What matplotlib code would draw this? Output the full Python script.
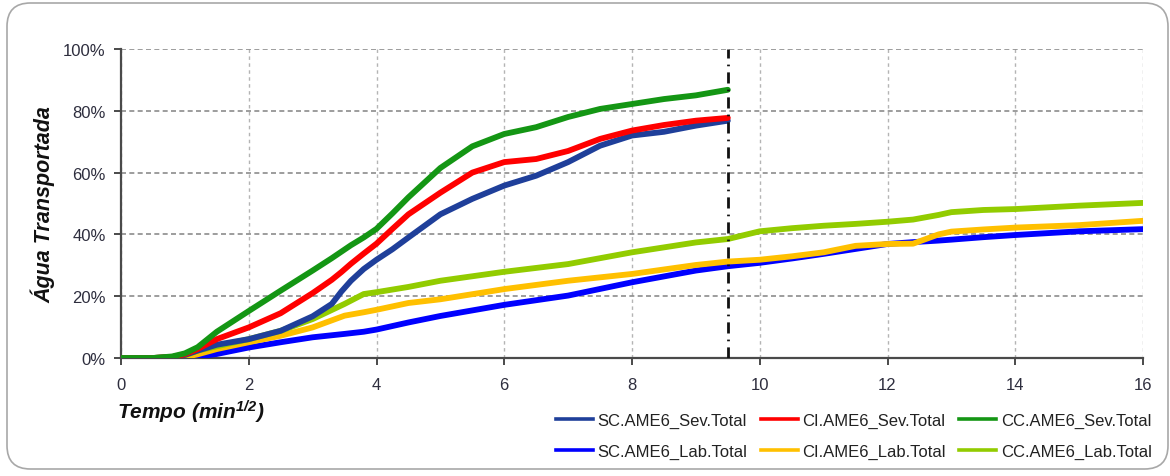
import matplotlib
matplotlib.use("Agg")
import matplotlib.pyplot as plt
from matplotlib.patches import FancyBboxPatch
from matplotlib.lines import Line2D

plt.rcParams['font.family'] = ['Liberation Sans', 'DejaVu Sans']
plt.rcParams['mathtext.fontset'] = 'custom'
plt.rcParams['mathtext.rm'] = 'Liberation Sans:italic:bold'
plt.rcParams['mathtext.it'] = 'Liberation Sans:italic:bold'
plt.rcParams['mathtext.default'] = 'rm'

# ---- data ----
x_sev = [0, 0.5, 0.8, 1.0, 1.2, 1.5, 2.0, 2.5, 3.0, 3.3, 3.45, 3.6, 3.8, 4.0,
         4.25, 4.5, 5.0, 5.5, 6.0, 6.5, 7.0, 7.5, 8.0, 8.5, 9.0, 9.5]
sc_sev = [0, 0, 0.3, 1.0, 2.4, 4.3, 6.1, 8.8, 13.5, 17.5, 21.5, 25.0, 28.8, 31.8,
          35.2, 39, 46.5, 51.5, 55.8, 59, 63.4, 68.7, 72, 73.2, 75.2, 76.8]
ci_sev = [0, 0, 0.3, 1.2, 2.9, 6.1, 9.9, 14.5, 21, 25.3, 27.8, 30.5, 33.8, 37,
          41.8, 46.5, 53.5, 60, 63.4, 64.4, 67, 70.9, 73.6, 75.4, 76.8, 77.7]
cc_sev = [0, 0, 0.5, 1.5, 3.5, 8.5, 15.2, 21.8, 28.3, 32.3, 34.4, 36.5, 39.0, 41.8,
          46.8, 52, 61.5, 68.5, 72.5, 74.7, 78, 80.6, 82.2, 83.8, 85, 86.8]

x_lab = [0, 0.5, 0.8, 1.0, 1.2, 1.5, 2.0, 2.5, 3.0, 3.5, 3.8, 4.0, 4.5, 5.0,
         6.0, 7.0, 8.0, 9.0, 9.5, 10.0, 10.5, 11.0, 11.5, 12.0, 12.4, 12.8,
         13.0, 13.5, 14.0, 15.0, 16.0]
sc_lab = [0, 0, 0, 0, 0.5, 1.3, 3.4, 5.1, 6.7, 7.8, 8.5, 9.2, 11.5, 13.6,
          17.2, 20.2, 24.5, 28.3, 29.7, 30.8, 32.2, 33.7, 35.3, 36.9, 37.5, 38.0,
          38.3, 39.1, 39.8, 41, 41.7]
ci_lab = [0, 0, 0, 0.3, 1.2, 2.9, 5.1, 7.2, 9.9, 13.7, 14.8, 15.6, 17.8, 19,
          22.3, 25, 27.2, 30.1, 31.2, 31.8, 32.9, 34.2, 36.3, 36.9, 37.0, 40.0,
          40.9, 41.6, 42.2, 43, 44.4]
cc_lab = [0, 0, 0.3, 0.8, 2.4, 3.8, 6.1, 8.8, 12.6, 17.5, 20.7, 21.3, 23, 25,
          27.9, 30.4, 34.2, 37.4, 38.5, 41, 42, 42.8, 43.4, 44.1, 44.8, 46.3,
          47.2, 47.9, 48.2, 49.3, 50.2]

cut_x = 9.5
x_ticks = [0, 2, 4, 6, 8, 10, 12, 14, 16]
y_ticks = [0, 20, 40, 60, 80, 100]
y_ticklabels = ['0%', '20%', '40%', '60%', '80%', '100%']

series = [
    ('SC.AME6_Sev.Total', x_sev, sc_sev, '#1F3F9A'),
    ('SC.AME6_Lab.Total', x_lab, sc_lab, '#0000FF'),
    ('CI.AME6_Sev.Total', x_sev, ci_sev, '#FF0000'),
    ('CI.AME6_Lab.Total', x_lab, ci_lab, '#FFC000'),
    ('CC.AME6_Sev.Total', x_sev, cc_sev, '#149614'),
    ('CC.AME6_Lab.Total', x_lab, cc_lab, '#92CC00'),
]
draw_order = [1, 3, 5, 0, 2, 4]

fig = plt.figure(figsize=(11.7, 4.77), dpi=100)
fig.patch.set_facecolor('white')

# rounded border
border = FancyBboxPatch((7 / 1170, 7 / 477), (1161 / 1170), (466 / 477),
                        boxstyle="round,pad=0,rounding_size=0.02",
                        transform=fig.transFigure, facecolor='none',
                        edgecolor='#A8A8A8', linewidth=1.2, mutation_aspect=1170 / 477)
fig.patches.append(border)

ax = fig.add_axes([121 / 1170, 1 - 359 / 477, (1143 - 121) / 1170, (359 - 50) / 477])

for i in draw_order:
    name, xs, ys, c = series[i]
    ax.plot(xs, ys, color=c, lw=4.2, solid_capstyle='round',
            solid_joinstyle='round', zorder=3)

ax.axvline(cut_x, ymin=0, ymax=1, color='#111111', lw=2,
           linestyle=(0, (4, 2.2, 0.6, 2.2)), zorder=4)

ax.set_xlim(0, 16)
ax.set_ylim(0, 100)
ax.set_xticks(x_ticks)
ax.set_yticks(y_ticks)
ax.set_yticklabels(y_ticklabels)

ax.xaxis.grid(True, color='#B4B4B4', linestyle=(0, (2.5, 2.5)), lw=1.0, zorder=0)
ax.yaxis.grid(True, color='#8C8C8C', linestyle=(0, (3, 2)), lw=1.2, zorder=0)
ax.set_axisbelow(True)

for s in ['top', 'right']:
    ax.spines[s].set_visible(False)
for s in ['left', 'bottom']:
    ax.spines[s].set_color('#4A4A4A')
    ax.spines[s].set_linewidth(1.6)

ax.tick_params(axis='both', direction='out', length=5, width=1.4, color='#4A4A4A',
               labelsize=12, labelcolor='#2E2E3E')
ax.tick_params(axis='x', pad=9)
ax.tick_params(axis='y', pad=6)

ax.set_ylabel('Água Transportada', fontsize=15.5, fontweight='bold',
              fontstyle='italic', color='#111111')
ax.yaxis.set_label_coords(-0.064, 0.5)

fig.text(117 / 1170, 1 - 412 / 477, r'Tempo (min$^{1/2}$)', fontsize=15,
         fontweight='bold', fontstyle='italic', ha='left', va='center',
         color='#111111')

handles = [Line2D([0], [0], color=c, lw=2.6) for (_, _, _, c) in series]
labels = [n for (n, _, _, _) in series]
fig.legend(handles, labels, ncol=3, loc='upper left',
           bbox_to_anchor=(556 / 1170, 1 - 414 / 477), frameon=False,
           fontsize=12, handlelength=2.2, handletextpad=0.3,
           columnspacing=0.8, labelspacing=0.95, borderpad=0, borderaxespad=0,
           labelcolor='#222222')

fig.savefig('out.png', dpi=100, facecolor='white')
